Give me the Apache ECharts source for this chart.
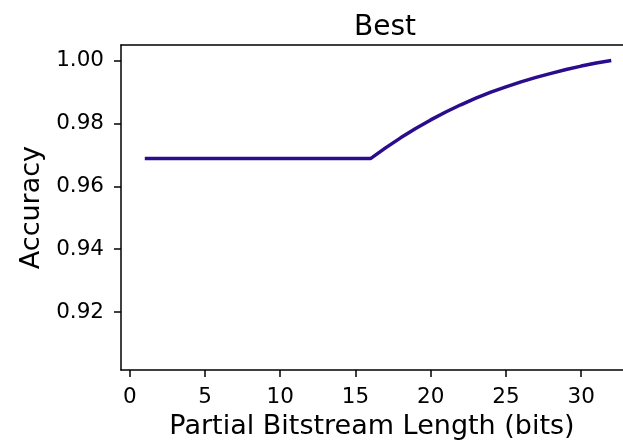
<!DOCTYPE html>
<html>
<head>
<meta charset="utf-8">
<script src="https://cdn.jsdelivr.net/npm/echarts@6/dist/echarts.min.js"></script>
<style>
html,body{margin:0;padding:0;background:#fff;}
#chart{width:623px;height:445px;}
</style>
</head>
<body>
<div id="chart"></div>
<script>
const bitLengths = [1,2,3,4,5,6,7,8,9,10,11,12,13,14,15,16,17,18,19,20,21,22,23,24,25,26,27,28,29,30,31,32];
const accuracy = [0.9688,0.9688,0.9688,0.9688,0.9688,0.9688,0.9688,0.9688,0.9688,0.9688,0.9688,0.9688,0.9688,0.9688,0.9688,0.9688,
  0.9722,0.9754,0.9784,0.9811,0.9836,0.9859,0.9880,0.9899,0.9916,0.9932,0.9946,0.9959,0.9971,0.9982,0.9992,1.0000];
const xTicks = [0,5,10,15,20,25,30];
const yTicks = [0.92,0.94,0.96,0.98,1.00];
const titleText = 'Best';
const xName = 'Partial Bitstream Length (bits)';
const yName = 'Accuracy';

const FONT = 'DejaVu Sans';
const chart = echarts.init(document.getElementById('chart'), null, {renderer:'canvas'});
const xMin = -0.58, xMax = 32.78, yMin = 0.9016, yMax = 1.0049;
chart.setOption({
  animation:false,
  backgroundColor:'#fff',
  title:{text:titleText, left:380, top:9, textAlign:'center',
    textStyle:{fontFamily:FONT,fontSize:28,fontWeight:'normal',color:'#000'}},
  grid:{left:121, top:45, right:0, height:326, containLabel:false},
  xAxis:[{
    type:'value', min:xMin, max:xMax, position:'bottom',
    name:xName, nameLocation:'middle', nameGap:41,
    nameTextStyle:{fontFamily:FONT,fontSize:27,color:'#000'},
    axisLine:{show:true,onZero:false,lineStyle:{color:'#000',width:1.5}},
    axisTick:{show:true,length:7,customValues:xTicks,lineStyle:{color:'#000',width:1.5}},
    axisLabel:{customValues:xTicks,fontFamily:FONT,fontSize:21.5,color:'#000',margin:16},
    splitLine:{show:false}
  },{
    type:'value', min:xMin, max:xMax, position:'top',
    axisLine:{show:true,onZero:false,lineStyle:{color:'#000',width:1.5}},
    axisTick:{show:false}, axisLabel:{show:false}, splitLine:{show:false}
  }],
  yAxis:{
    type:'value', min:yMin, max:yMax,
    name:yName, nameLocation:'middle', nameGap:75,
    nameTextStyle:{fontFamily:FONT,fontSize:27,color:'#000'},
    axisLine:{show:true,onZero:false,lineStyle:{color:'#000',width:1.5}},
    axisTick:{show:true,length:7,customValues:yTicks,lineStyle:{color:'#000',width:1.5}},
    axisLabel:{customValues:yTicks,fontFamily:FONT,fontSize:21.5,color:'#000',margin:17,
      formatter:v=>v.toFixed(2)},
    splitLine:{show:false}
  },
  series:[{
    type:'line', xAxisIndex:0,
    data:bitLengths.map((x,i)=>[x,accuracy[i]]),
    showSymbol:false, smooth:false,
    lineStyle:{color:'#2a0c8c',width:3.5},
    itemStyle:{color:'#2a0c8c'}
  }]
});
</script>
</body>
</html>
